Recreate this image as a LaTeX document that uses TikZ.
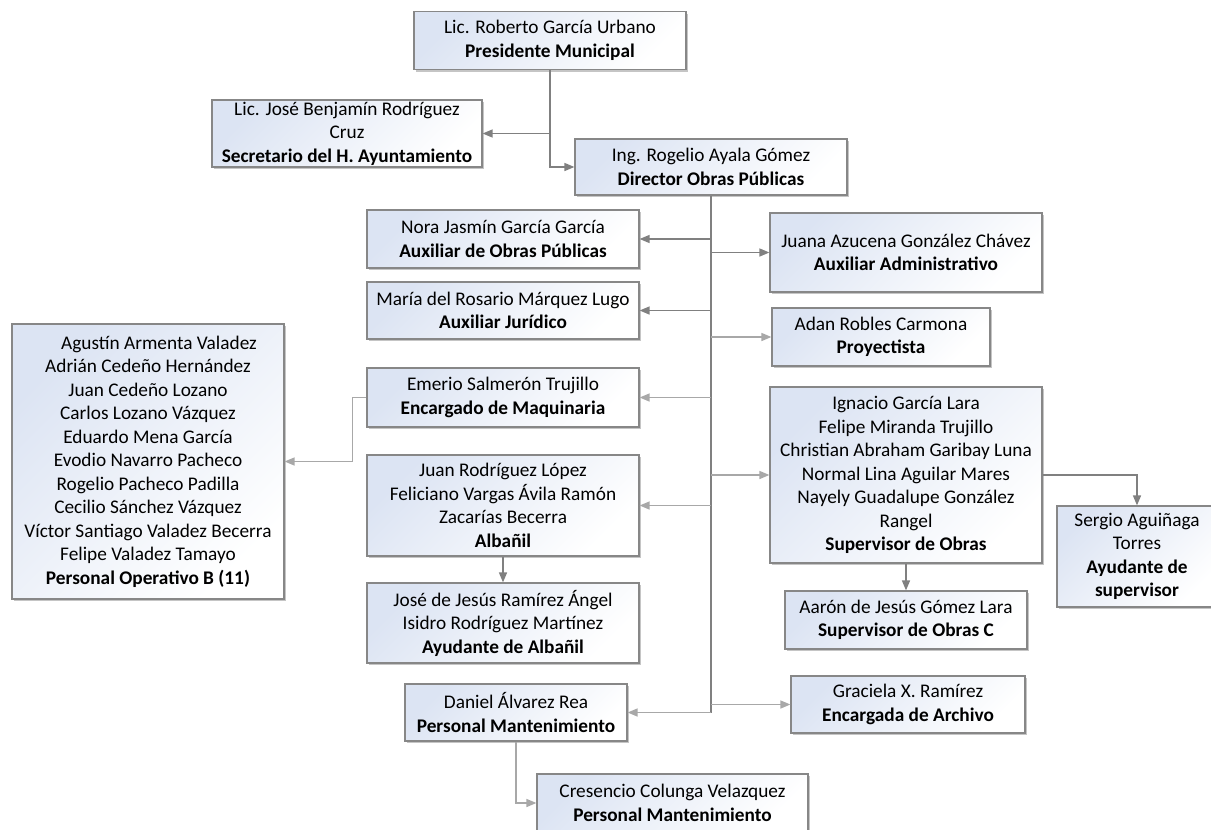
\documentclass[tikz,border=0pt]{standalone}
\usepackage{fontspec}
\setmainfont{Carlito}
\usetikzlibrary{arrows.meta,shadows}
\definecolor{boxblue}{RGB}{220,228,243}
\definecolor{boxline}{RGB}{135,135,135}
\definecolor{linkdark}{RGB}{128,128,128}
\definecolor{linklight}{RGB}{168,168,168}
\begin{document}
\begin{tikzpicture}[x=1pt,y=-1pt,
  card/.style={draw=boxline,line width=1.2pt,shading=axis,top color=boxblue,
    bottom color=white,shading angle=45,
    drop shadow={shadow xshift=2pt,shadow yshift=-2pt,fill=black!45,opacity=.5},
    align=center,inner sep=0pt,minimum width=272pt,minimum height=58pt,
    font=\fontsize{19.3}{23.5}\selectfont},
  spine/.style={draw=linkdark,line width=1.5pt},
  link/.style={spine,-{Triangle[length=10pt,width=8pt]}},
  faint/.style={link,draw=linklight}]
\useasboundingbox (0,0) rectangle (1211,830);
\node[card] (pres) at (550,40.5) {Lic. Roberto García Urbano\\\textbf{Presidente Municipal}};
\node[card,minimum width=270pt,minimum height=67pt] (secr) at (347,133.5)
  {Lic. José Benjamín Rodríguez\\Cruz\\\textbf{Secretario del H. Ayuntamiento}};
\node[card,minimum height=56pt] (dir) at (711,167) {Ing. Rogelio Ayala Gómez\\\textbf{Director Obras Públicas}};
% left column
\node[card] (nora) at (503,239) {Nora Jasmín García García\\\textbf{Auxiliar de Obras Públicas}};
\node[card,minimum height=57pt] (maria) at (503,310.5) {María del Rosario Márquez Lugo\\\textbf{Auxiliar Jurídico}};
\node[card,minimum height=59pt] (emerio) at (503,397.5) {Emerio Salmerón Trujillo\\\textbf{Encargado de Maquinaria}};
\node[card,minimum height=101pt] (juan) at (503,505.5)
  {Juan Rodríguez López\\Feliciano Vargas Ávila Ramón\\Zacarías Becerra\\\textbf{Albañil}};
\node[card,minimum height=80pt] (jose) at (503,623)
  {José de Jesús Ramírez Ángel\\Isidro Rodríguez Martínez\\\textbf{Ayudante de Albañil}};
\node[card,minimum width=222pt,minimum height=57pt] (daniel) at (516,712.5) {Daniel Álvarez Rea\\\textbf{Personal Mantenimiento}};
\node[card,minimum width=271pt] (cres) at (672.5,803) {Cresencio Colunga Velazquez\\\textbf{Personal Mantenimiento}};
\node[card,minimum height=275pt] (po) at (148,461.5)
  {\hspace*{22pt}Agustín Armenta Valadez\\Adrián Cedeño Hernández\\Juan Cedeño Lozano\\
   Carlos Lozano Vázquez\\Eduardo Mena García\\Evodio Navarro Pacheco\\Rogelio Pacheco Padilla\\
   Cecilio Sánchez Vázquez\\Víctor Santiago Valadez Becerra\\Felipe Valadez Tamayo\\
   \textbf{Personal Operativo B (11)}};
% right column
\node[card,minimum height=79pt] (juana) at (906,252.5) {Juana Azucena González Chávez\\\textbf{Auxiliar Administrativo}};
\node[card,minimum width=218pt] (adan) at (881,337) {Adan Robles Carmona\\\textbf{Proyectista}};
\node[card,minimum height=176pt] (nacho) at (906,475)
  {Ignacio García Lara\\Felipe Miranda Trujillo\\Christian Abraham Garibay Luna\\
   Normal Lina Aguilar Mares\\Nayely Guadalupe González\\Rangel\\\textbf{Supervisor de Obras}};
\node[card,minimum width=242pt] (aaron) at (906,620) {Aarón de Jesús Gómez Lara\\\textbf{Supervisor de Obras C}};
\node[card,minimum width=234pt,minimum height=57pt] (graciela) at (908,704.5) {Graciela X. Ramírez\\\textbf{Encargada de Archivo}};
\node[card,minimum width=160pt,minimum height=101pt] (sergio) at (1137,556.5)
  {Sergio Aguiñaga\\Torres\\\textbf{Ayudante de}\\\textbf{supervisor}};
% connectors
\draw[link] (pres.south) |- (dir.west);
\draw[link] (pres.south |- secr.east) -- (secr.east);
\draw[spine] (dir.south) -- (dir.south |- daniel.east);
\draw[link] (dir.south |- nora.east) -- (nora.east);
\draw[link] (dir.south |- maria.east) -- (maria.east);
\draw[faint] (dir.south |- emerio.east) -- (emerio.east);
\draw[faint] (dir.south |- juan.east) -- (juan.east);
\draw[faint] (dir.south |- daniel.east) -- (daniel.east);
\draw[link] (dir.south |- juana.west) -- (juana.west);
\draw[faint] (dir.south |- adan.west) -- (adan.west);
\draw[faint] (dir.south |- nacho.west) -- (nacho.west);
\draw[faint] (dir.south |- graciela.west) -- (graciela.west);
\draw[faint] (emerio.west) -- ++(-14,0) |- (po.east);
\draw[link] (juan.south) -- (jose.north);
\draw[faint] (daniel.south) |- (cres.west);
\draw[link] (nacho.east) -| (sergio.north);
\draw[link] (nacho.south) -- (aaron.north);
\end{tikzpicture}
\end{document}
